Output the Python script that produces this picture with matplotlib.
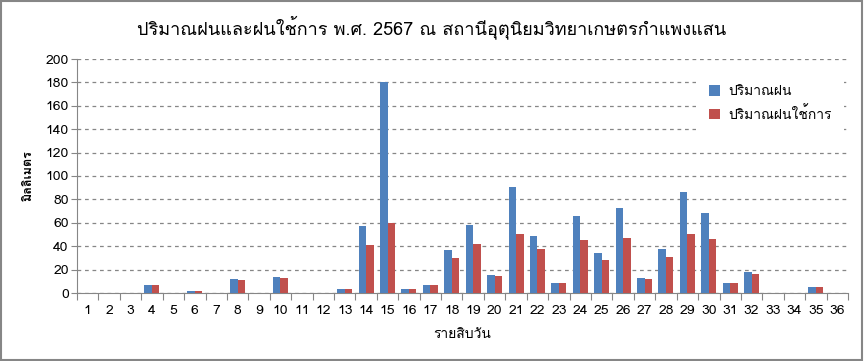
import matplotlib
matplotlib.use("Agg")
import matplotlib.pyplot as plt
from matplotlib import font_manager
from matplotlib.ft2font import FT2Font
from matplotlib.patches import Rectangle
import numpy as np

# ten-day periods of 2567
periods = list(range(1, 37))
rain = [0, 0, 0, 6.5, 0, 2.0, 0, 12.3, 0, 14.0, 0, 0, 3.1, 57.5, 180.3, 3.7, 7.1, 37.0,
        58.4, 15.7, 90.9, 49.0, 8.8, 66.1, 34.5, 72.9, 13.1, 37.9, 86.6, 68.7, 8.8, 18.2,
        0, 0, 5.4, 0]
effective = [0, 0, 0, 6.5, 0, 2.0, 0, 11.4, 0, 13.1, 0, 0, 3.1, 41.3, 60.1, 3.7, 7.1, 30.2,
             42.2, 14.8, 50.7, 37.9, 8.8, 45.6, 28.5, 47.3, 12.3, 31.1, 50.7, 46.4, 8.8, 16.5,
             0, 0, 5.4, 0]

title = "ปริมาณฝนและฝนใช้การ พ.ศ. 2567 ณ สถานีอุตุนิยมวิทยาเกษตรกำแพงแสน"
series_names = ["ปริมาณฝน", "ปริมาณฝนใช้การ"]
xlabel = "รายสิบวัน"
ylabel = "มิลลิเมตร"


def thai_font():
    for f in font_manager.fontManager.ttflist:
        try:
            cmap = FT2Font(f.fname).get_charmap()
        except Exception:
            continue
        if 0x0E01 in cmap and 0x0E21 in cmap:
            return f.name
    return None


tf = thai_font()
families = ([tf] if tf else []) + ["DejaVu Sans"]
plt.rcParams["font.family"] = families

fig = plt.figure(figsize=(8.64, 3.61), dpi=100)
ax = fig.add_axes([77 / 864, 1 - 293 / 361, (848 - 77) / 864, (293 - 59) / 361])

x = np.arange(len(periods))
w = 0.35
ax.bar(x - w / 2, rain, w, color="#4f81bd", label=series_names[0], zorder=3)
ax.bar(x + w / 2, effective, w, color="#c0504d", label=series_names[1], zorder=3)

ax.set_xlim(-0.5, len(periods) - 0.5)
ax.set_ylim(0, 200)
ax.set_yticks(range(0, 201, 20))
ax.set_xticks(np.arange(len(periods) + 1) - 0.5, minor=False)
ax.set_xticklabels([])
ax.set_xticks(x, minor=True)
ax.set_xticklabels([str(p) for p in periods], minor=True)
ax.tick_params(axis="x", which="major", length=5, color="#868686", direction="out")
ax.tick_params(axis="x", which="minor", length=0, pad=9, labelsize=10)
ax.tick_params(axis="y", length=4, color="#868686", labelsize=10, pad=2)

ax.yaxis.grid(True, linestyle=(0, (3, 3)), color="#868686", linewidth=0.9, zorder=0)
for side in ("top", "right"):
    ax.spines[side].set_visible(False)
for side in ("left", "bottom"):
    ax.spines[side].set_color("#868686")

ax.set_xlabel(xlabel, fontsize=10, labelpad=8)
ax.set_ylabel(ylabel, fontsize=9, labelpad=8, fontweight="bold")
fig.text(0.5, 1 - 27 / 361, title, ha="center", va="center", fontsize=13)

leg = ax.legend(loc="upper right", bbox_to_anchor=(1.0, 0.96), frameon=True,
                fontsize=10, handlelength=0.8, handleheight=0.8, borderaxespad=0.3,
                labelspacing=0.55, borderpad=0.9, handletextpad=0.6)
leg.get_frame().set_facecolor("white")
leg.get_frame().set_edgecolor("none")
leg.get_frame().set_alpha(1)
leg.set_zorder(5)

fig.add_artist(Rectangle((0.001, 0.002), 0.997, 0.995, transform=fig.transFigure,
                         fill=False, edgecolor="#868686", linewidth=1.5))

fig.savefig("out.png", dpi=100)
